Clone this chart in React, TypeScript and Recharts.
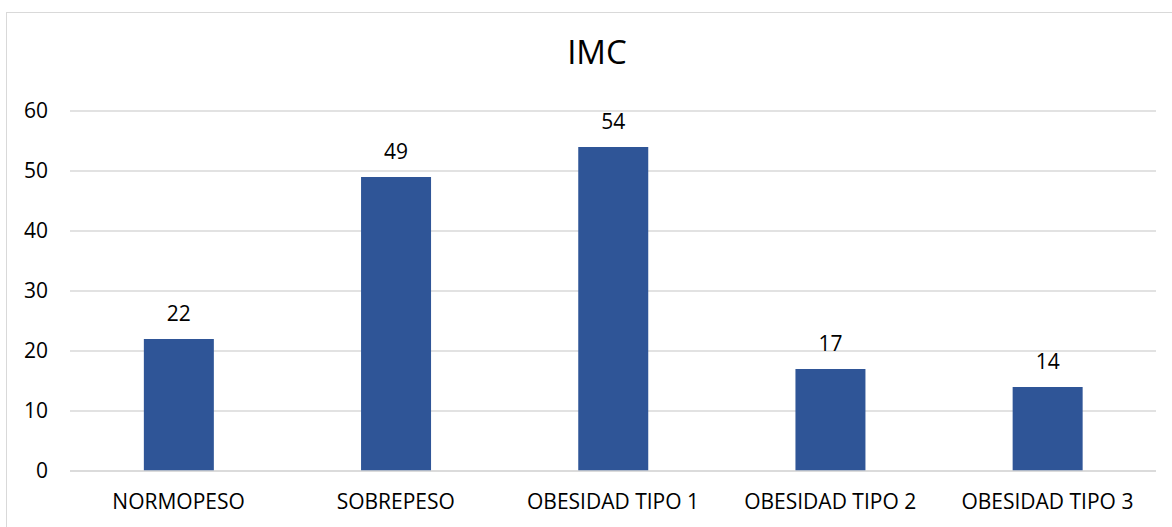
import { BarChart, Bar, XAxis, YAxis, CartesianGrid, LabelList } from 'recharts';

const categories = ['NORMOPESO', 'SOBREPESO', 'OBESIDAD TIPO 1', 'OBESIDAD TIPO 2', 'OBESIDAD TIPO 3'];
const values = [22, 49, 54, 17, 14];
const yTicks = [0, 10, 20, 30, 40, 50, 60];

const data = categories.map((name, i) => ({ name, value: values[i] }));

const font = '"Open Sans", "Liberation Sans", sans-serif';

export default function App() {
  return (
    <div style={{ position: 'fixed', left: 0, top: 0, width: 1172, height: 527, background: '#fff', overflow: 'hidden' }}>
      <div
        style={{
          position: 'absolute',
          left: 6,
          top: 12,
          width: 1180,
          height: 530,
          border: '1px solid #d9d9d9',
          boxSizing: 'border-box',
        }}
      />
      <div
        style={{
          position: 'absolute',
          left: 597,
          top: 68,
          transform: 'translate(-50%, -100%)',
          fontFamily: font,
          fontSize: 33,
          lineHeight: 1,
          color: '#000',
          whiteSpace: 'nowrap',
        }}
      >
        IMC
      </div>
      <div style={{ position: 'absolute', left: 0, top: 0 }}>
        <BarChart
          width={1172}
          height={527}
          data={data}
          margin={{ top: 111, right: 16, bottom: 0, left: 0 }}
          barCategoryGap="34%"
        >
          <CartesianGrid vertical={false} stroke="#d9d9d9" strokeWidth={1.5} />
          <XAxis
            dataKey="name"
            height={56}
            axisLine={{ stroke: '#d9d9d9', strokeWidth: 1.5 }}
            tickLine={false}
            tickSize={0}
            tickMargin={23}
            interval={0}
            tick={{ fontSize: 21, fill: '#000', fontFamily: font }}
          />
          <YAxis
            width={70}
            domain={[0, 60]}
            ticks={yTicks}
            axisLine={false}
            tickLine={false}
            tickSize={0}
            tickMargin={22}
            tick={{ fontSize: 21, fill: '#000', fontFamily: font }}
          />
          <Bar dataKey="value" fill="#2f5597" isAnimationActive={false}>
            <LabelList
              dataKey="value"
              position="top"
              offset={18}
              style={{ fontSize: 21, fill: '#000', fontFamily: font }}
            />
          </Bar>
        </BarChart>
      </div>
    </div>
  );
}
